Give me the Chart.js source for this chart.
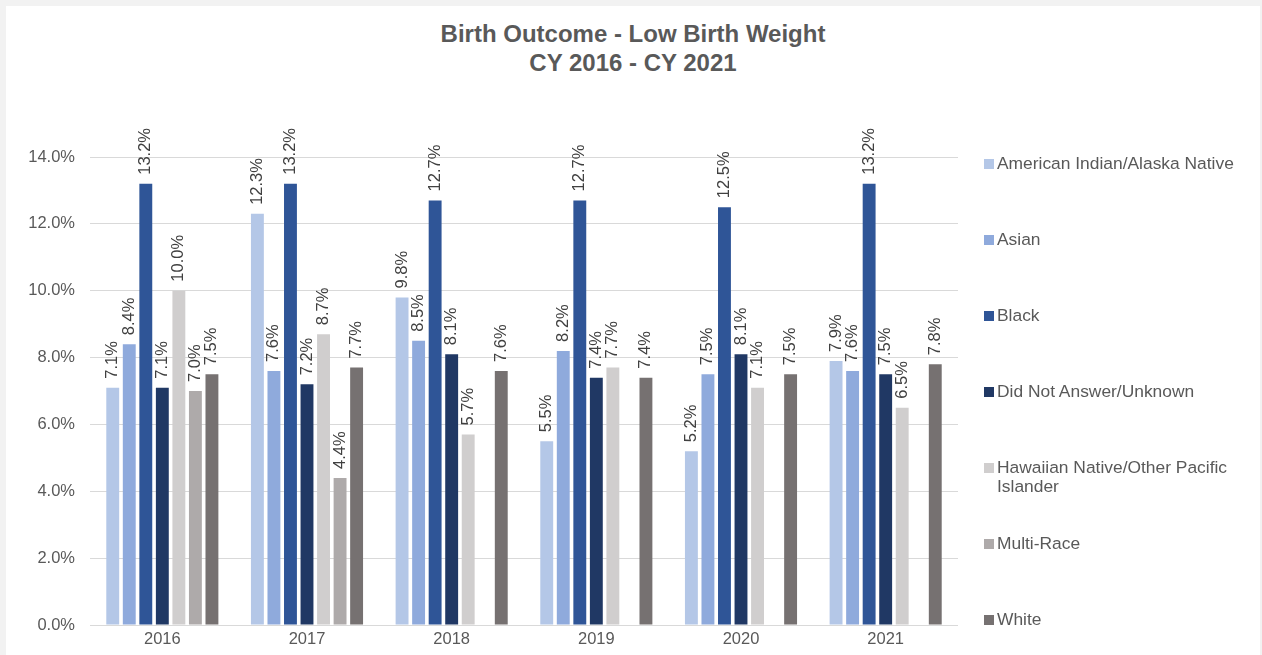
<!DOCTYPE html>
<html>
<head>
<meta charset="utf-8">
<script src="https://cdn.jsdelivr.net/npm/chart.js@4.4.1/dist/chart.umd.min.js"></script>
<style>
html, body { margin:0; padding:0; width:1262px; height:655px; overflow:hidden; background:#f2f2f2; font-family:"Liberation Sans", Arial, sans-serif; }
#frame { position:absolute; left:6px; top:6px; width:1254px; height:660px; background:#fff; }
#wrap { position:absolute; left:0; top:0; width:1262px; height:655px; }
#title { position:absolute; left:0; top:19px; width:1266px; text-align:center; font-weight:bold; font-size:24px; line-height:29px; color:#595959; }
.lg { position:absolute; left:997px; width:260px; font-size:17.4px; line-height:19px; color:#595959; }
.lg i { position:absolute; left:-13px; top:5px; width:10px; height:10px; }
</style>
</head>
<body>
<div id="frame"></div>
<div id="title">Birth Outcome - Low Birth Weight<br>CY 2016 - CY 2021</div>
<div id="wrap"><canvas id="bar-chart"></canvas></div>
<div id="legend"></div>
<script>
// data (percent)
var years = ["2016", "2017", "2018", "2019", "2020", "2021"];
var seriesNames = ["American Indian/Alaska Native", "Asian", "Black", "Did Not Answer/Unknown",
    "Hawaiian Native/Other Pacific Islander", "Multi-Race", "White"];
var aian     = [7.1, 12.3, 9.8, 5.5, 5.2, 7.9];
var asian    = [8.4, 7.6, 8.5, 8.2, 7.5, 7.6];
var black    = [13.2, 13.2, 12.7, 12.7, 12.5, 13.2];
var unknown  = [7.1, 7.2, 8.1, 7.4, 8.1, 7.5];
var hawaiian = [10.0, 8.7, 5.7, 7.7, 7.1, 6.5];
var multi    = [7.0, 4.4, null, null, null, null];
var white    = [7.5, 7.7, 7.6, 7.4, 7.5, 7.8];
var yTicks = [0, 2, 4, 6, 8, 10, 12, 14];

var colors = ["#b4c7e7", "#8faadc", "#2f5597", "#203864", "#d0cece", "#aeaaaa", "#767171"];
var values = [aian, asian, black, unknown, hawaiian, multi, white];

var FONT = '"Liberation Sans", Arial, sans-serif';

// rotated value labels above the bars
var barLabels = {
    id: 'barLabels',
    afterDatasetsDraw: function (chart) {
        var ctx = chart.ctx;
        ctx.save();
        ctx.font = '16.5px ' + FONT;
        ctx.fillStyle = '#404040';
        ctx.textAlign = 'left';
        ctx.textBaseline = 'middle';
        chart.data.datasets.forEach(function (ds, i) {
            chart.getDatasetMeta(i).data.forEach(function (bar, j) {
                var v = ds.data[j];
                if (v == null) return;
                ctx.save();
                ctx.translate(bar.x, bar.y - 9);
                ctx.rotate(-Math.PI / 2);
                ctx.fillText(v.toFixed(1) + '%', 0, 0);
                ctx.restore();
            });
        });
        ctx.restore();
    }
};

new Chart(document.getElementById("bar-chart"), {
    type: 'bar',
    data: {
        labels: years,
        datasets: seriesNames.map(function (name, i) {
            return {
                label: name,
                data: values[i],
                backgroundColor: colors[i],
                barPercentage: 0.78,
                categoryPercentage: 0.8
            };
        })
    },
    options: {
        responsive: true,
        maintainAspectRatio: false,
        animation: false,
        layout: { padding: { top: 157, right: 304, left: 0, bottom: 0 } },
        plugins: {
            legend: { display: false },
            title: { display: false },
            tooltip: { enabled: false }
        },
        scales: {
            x: {
                grid: { display: false, drawTicks: false },
                border: { display: false },
                ticks: { color: '#595959', font: { family: FONT, size: 16.5 }, padding: 5 },
                afterFit: function (s) { s.height = 30; }
            },
            y: {
                min: 0,
                max: 14,
                afterBuildTicks: function (s) { s.ticks = yTicks.map(function (v) { return { value: v }; }); },
                grid: { color: '#d9d9d9', drawTicks: false },
                border: { display: false },
                ticks: {
                    color: '#595959',
                    font: { family: FONT, size: 16.5 },
                    padding: 15,
                    callback: function (v) { return v.toFixed(1) + '%'; }
                },
                afterFit: function (s) { s.width = 90; }
            }
        }
    },
    plugins: [barLabels]
});

// legend on the right
var legend = document.getElementById('legend');
seriesNames.forEach(function (name, i) {
    var d = document.createElement('div');
    d.className = 'lg';
    d.style.top = (154 + i * 76) + 'px';
    d.innerHTML = '<i style="background:' + colors[i] + '"></i>' + name;
    legend.appendChild(d);
});
</script>
</body>
</html>
